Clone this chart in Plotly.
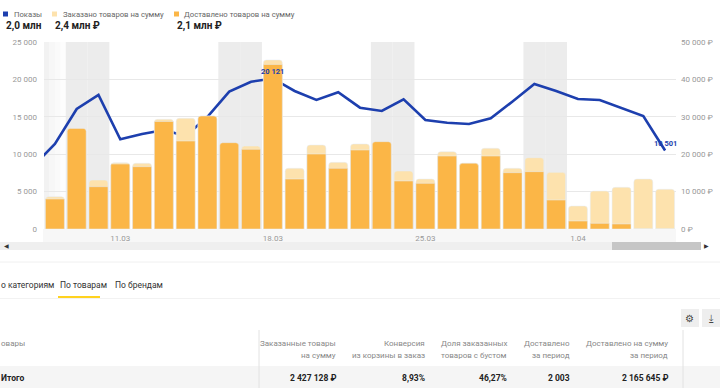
import datetime as dt
import plotly.graph_objects as go

# ---------------- data ----------------
dates = ["08.03", "09.03", "10.03", "11.03", "12.03", "13.03", "14.03", "15.03", "16.03", "17.03",
         "18.03", "19.03", "20.03", "21.03", "22.03", "23.03", "24.03", "25.03", "26.03", "27.03",
         "28.03", "29.03", "30.03", "31.03", "01.04", "02.04", "03.04", "04.04", "05.04"]
ordered_rub = [8640, 26900, 13100, 17730, 17570, 29330, 29600, 30220, 23080, 22190,
               45200, 16230, 22460, 17830, 22730, 23350, 15510, 13370, 20670, 17570,
               21580, 16230, 19070, 15150, 6150, 10160, 11150, 13370, 10620]
delivered_rub = [8020, 26900, 11310, 17380, 16660, 28750, 23530, 30220, 23080, 21300,
                 44000, 13370, 20050, 16230, 21120, 23350, 12840, 12220, 19520, 17570,
                 19520, 15060, 15330, 7750, 2140, 1520, 1340, 0, 0]
views = [11360, 16040, 17920, 11990, 12700, 13240, 12430, 15010, 18360, 19690,
         20121, 18450, 17250, 18280, 16220, 15780, 17340, 14570, 14210, 14040,
         14800, 17050, 19390, 18450, 17380, 17250, 16140, 15110, 10501]
prev_date = "07.03"      # point just left of the visible window (line is clipped)
prev_views = 8400
year = 2024
highlight_date = "18.03"

tick_dates = ["11.03", "18.03", "25.03", "01.04"]
tick_labels = ["11.03", "18.03", "25.03", "1.04"]
left_ticks = [0, 5000, 10000, 15000, 20000, 25000]
right_ticks = [0, 10000, 20000, 30000, 40000, 50000]

legend_names = ["Показы", "Заказано товаров на сумму", "Доставлено товаров на сумму"]
legend_totals = ["2,0 млн", "2,4 млн ₽", "2,1 млн ₽"]
tabs = ["о категориям", "По товарам", "По брендам"]
table_headers = [("Заказанные товары", "на сумму"), ("Конверсия", "из корзины в заказ"),
                 ("Доля заказанных", "товаров с бустом"), ("Доставлено", "за период"),
                 ("Доставлено на сумму", "за период")]
table_totals = ["2 427 128 ₽", "8,93%", "46,27%", "2 003", "2 165 645 ₽"]

# ---------------- styling ----------------
BLUE = "#1d3fae"
ORANGE = "#fbb647"
PALE = "#fde2ad"
FONT = "Roboto"
W, H = 720, 388
L, R, T, B = 44, 44, 42, 159
PW, PH = W - L - R, H - T - B


def px(x):
    return (x - L) / PW


def py(y):
    return (H - B - y) / PH


def fmt(v):
    return f"{v:,}".replace(",", " ")


cats = [prev_date] + dates
fig = go.Figure()

fig.add_trace(go.Bar(x=dates, y=ordered_rub, yaxis="y2", marker_color=PALE,
                     marker_cornerradius=3, width=0.87, hoverinfo="skip", name=legend_names[1]))
fig.add_trace(go.Bar(x=dates, y=delivered_rub, yaxis="y2", marker_color=ORANGE,
                     marker_cornerradius=3, width=0.87, hoverinfo="skip", name=legend_names[2]))
fig.add_trace(go.Scatter(x=cats, y=[prev_views] + views, mode="lines", yaxis="y",
                         line=dict(color=BLUE, width=2.6), name=legend_names[0], cliponaxis=True))

shapes = []
annotations = []

# weekend bands
for i, d in enumerate(dates):
    dd, mm = (int(p) for p in d.split("."))
    if dt.date(year, mm, dd).weekday() >= 5:
        k = cats.index(d)
        shapes.append(dict(type="rect", xref="x", yref="paper", x0=k - 0.5, x1=k + 0.5, y0=0, y1=1,
                           fillcolor="#ececec", line_width=0, layer="below"))
# left fade of the scrolled window
for j, op in enumerate([0.9, 0.6, 0.35, 0.15]):
    shapes.append(dict(type="rect", xref="paper", yref="paper", x0=px(44 + j * 5.5), x1=px(44 + (j + 1) * 5.5),
                       y0=0, y1=1, fillcolor="#f1f1f1", opacity=op, line_width=0, layer="below"))
# x label band
shapes.append(dict(type="rect", xref="paper", yref="paper", x0=px(43), x1=px(676), y0=py(243), y1=py(229),
                   fillcolor="#f7f7f7", line_width=0, layer="below"))
# scrollbar
shapes.append(dict(type="rect", xref="paper", yref="paper", x0=px(0), x1=px(701), y0=py(250), y1=py(242),
                   fillcolor="#efefef", line_width=0))
shapes.append(dict(type="rect", xref="paper", yref="paper", x0=px(612), x1=px(701), y0=py(250), y1=py(242),
                   fillcolor="#c6c6c6", line_width=0))
annotations.append(dict(x=px(6), y=py(246), xref="paper", yref="paper", text="◀", showarrow=False,
                        font=dict(size=6, color="#333"), xanchor="center", yanchor="middle"))
annotations.append(dict(x=px(706), y=py(246), xref="paper", yref="paper", text="▶", showarrow=False,
                        font=dict(size=6, color="#333"), xanchor="center", yanchor="middle"))

# point labels (x given as category index)
hk = dates.index(highlight_date)
for d, v, ys in [(highlight_date, views[hk], 7), (dates[-1], views[-1], 7)]:
    annotations.append(dict(x=cats.index(d), y=v, xref="x", yref="y", text=fmt(v), showarrow=False, yshift=ys,
                            font=dict(size=7.5, color=BLUE, family=FONT, weight="bold"),
                            xanchor="center", yanchor="middle"))


def text(x, y, s, size=8.5, color="#222", anchor="left", bold=False):
    annotations.append(dict(x=px(x), y=py(y), xref="paper", yref="paper", text=s, showarrow=False,
                            xanchor=anchor, yanchor="middle",
                            font=dict(size=size, color=color, family=FONT, weight="bold" if bold else "normal")))


# header legend
sq_x = [3, 52, 174]
name_x = [12, 61, 182]
tot_x = [4, 53, 175]
for c, sx, nx, tx, nm, tt in zip([BLUE, PALE, ORANGE], sq_x, name_x, tot_x, legend_names, legend_totals):
    shapes.append(dict(type="rect", xref="paper", yref="paper", x0=px(sx), x1=px(sx + 5), y0=py(16.5), y1=py(11.5),
                       fillcolor=c, line_width=0))
    text(nx, 14, nm, size=7.7, color="#666")
    text(tx, 26, tt, size=10, color="#222", bold=True)

# tabs
shapes.append(dict(type="line", xref="paper", yref="paper", x0=px(0), x1=px(720), y0=py(262), y1=py(262),
                   line=dict(color="#f0f0f0", width=1)))
for s, x in zip(tabs, [-1, 58, 113]):
    text(x, 285, s, size=8.5, color="#333")
shapes.append(dict(type="line", xref="paper", yref="paper", x0=px(58), x1=px(100), y0=py(297), y1=py(297),
                   line=dict(color="#ffd21f", width=2)))
shapes.append(dict(type="line", xref="paper", yref="paper", x0=px(0), x1=px(720), y0=py(298.5), y1=py(298.5),
                   line=dict(color="#f2f2f2", width=1)))

# icons
for x0, sym in [(681, "⚙"), (702, "⤓")]:
    shapes.append(dict(type="rect", xref="paper", yref="paper", x0=px(x0), x1=px(x0 + 18), y0=py(327), y1=py(309),
                       fillcolor="#eeeeee", line_width=0))
    text(x0 + 9, 318, sym, size=10, color="#444", anchor="center")

# table
shapes.append(dict(type="rect", xref="paper", yref="paper", x0=px(0), x1=px(720), y0=py(388), y1=py(366),
                   fillcolor="#f5f5f5", line_width=0))
for xv in [259, 683]:
    shapes.append(dict(type="line", xref="paper", yref="paper", x0=px(xv), x1=px(xv), y0=py(388), y1=py(330),
                       line=dict(color="#e2e2e2", width=1)))
text(-1, 343, "овары", size=8, color="#888")
text(-1, 378, "Итого", size=8.5, color="#222", bold=True)
col_right = [338, 427, 509, 572, 670]
for (h1, h2), xr, tv in zip(table_headers, col_right, table_totals):
    text(xr, 343, h1, size=8, color="#888", anchor="right")
    text(xr, 355, h2, size=8, color="#888", anchor="right")
    text(xr, 378, tv, size=8.5, color="#222", anchor="right", bold=True)

fig.update_layout(
    width=W, height=H, autosize=False,
    margin=dict(l=L, r=R, t=T, b=B),
    paper_bgcolor="white", plot_bgcolor="white",
    barmode="overlay", bargap=0.13, showlegend=False,
    font=dict(family=FONT, size=8, color="#999"),
    xaxis=dict(type="category", categoryorder="array", categoryarray=cats, range=[0.5, len(cats) - 0.5],
               tickmode="array", tickvals=[cats.index(d) for d in tick_dates], ticktext=tick_labels,
               showgrid=False, showline=False, ticks="", ticklabelstandoff=3, automargin=False,
               tickfont=dict(size=8, color="#999")),
    yaxis=dict(range=[0, 25000], tickmode="array", tickvals=left_ticks, ticktext=[fmt(v) for v in left_ticks],
               gridcolor="#e8e8e8", zeroline=False, showline=False, ticklabelstandoff=6, automargin=False,
               tickfont=dict(size=8, color="#999")),
    yaxis2=dict(range=[0, 50000], tickmode="array", tickvals=right_ticks,
                ticktext=[fmt(v) + " ₽" for v in right_ticks], overlaying="y",
                side="right", showgrid=False, zeroline=False, showline=False, ticklabelstandoff=4,
                automargin=False, tickfont=dict(size=8, color="#999")),
    shapes=shapes, annotations=annotations,
)

fig.write_html("out.html", config={"displayModeBar": False},
               post_script="document.body.style.margin='0px';")
